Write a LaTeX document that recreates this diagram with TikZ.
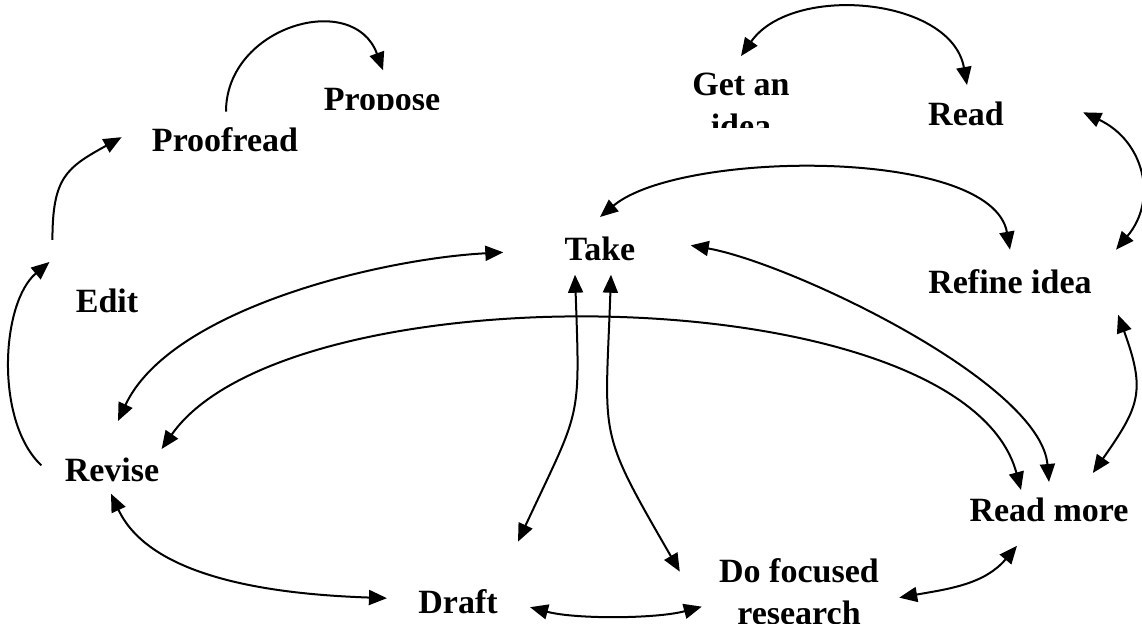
\documentclass[tikz,border=0pt]{standalone}
\usepackage{fontspec}
\setmainfont{Liberation Serif}
\usetikzlibrary{arrows.meta}

\begin{document}
\begin{tikzpicture}[x=0.5pt,y=0.5pt,
  lbl/.style={font=\fontsize{17}{21}\selectfont\bfseries, inner sep=0pt, anchor=base, align=center},
  link/.style={line width=1pt, -{Triangle[length=9pt,width=7.5pt]}},
  both/.style={line width=1pt, {Triangle[length=9pt,width=7.5pt]}-{Triangle[length=9pt,width=7.5pt]}}]
  \clip (0,0) rectangle (1142,624);
  \begin{scope}
    \clip (300,514) rectangle (470,560);
    \node[lbl] (propose) at (382,513) {Propose};
  \end{scope}
  \begin{scope}
    \clip (680,496) rectangle (800,560);
    \node[lbl] (getidea) at (741,486) {Get an\\idea};
  \end{scope}
  \node[lbl] (proofread) at (225,472) {Proofread};
  \node[lbl] (edit) at (107,311) {Edit};
  \node[lbl] (read) at (966,498) {Read};
  \node[lbl] (take) at (600,363) {Take};
  \node[lbl] (refine) at (1010,330) {Refine idea};
  \node[lbl] (revise) at (112,142) {Revise};
  \node[lbl] (readmore) at (1049,102) {Read more};
  \node[lbl] (draft) at (458,10) {Draft};
  \node[lbl] (focused) at (799,-1) {Do focused\\research};

  \draw[link] ([shift={(1,16)}]proofread.north) to[out=90,in=110,looseness=1.35] ([shift={(1,18)}]propose.north);
  \draw[link] ([shift={(-23,49)}]edit.north west) to[out=90,in=209,looseness=1.3] ([shift={(-30,3)}]proofread.west);
  \draw[link] ([shift={(-23,5)}]revise.west) to[out=137,in=220,looseness=0.8] ([shift={(-26,27)}]edit.north west);
  \draw[both] ([shift={(0,17)}]getidea.north) to[out=55,in=100] ([shift={(1,17)}]read.north);
  \draw[both] ([shift={(79,2)}]read.east) to[out=-25,in=50,looseness=1.2] ([shift={(24,20)}]refine.north east);
  \draw[both] ([shift={(0,20)}]take.north) to[out=40,in=100,looseness=0.65] ([shift={(0,20)}]refine.north);
  \draw[both] ([shift={(55,4)}]take.east) to[out=-10,in=95,looseness=0.6] ([shift={(0,16)}]readmore.north);
  \draw[both] ([shift={(2,9)}]revise.north east) to[out=55,in=105,looseness=0.66] ([shift={(-28,8)}]readmore.north);
  \draw[both] ([shift={(6,37)}]revise.north) to[out=65,in=183,looseness=0.75] ([shift={(-61,-3)}]take.west);
  \draw[both] ([shift={(-1,-11)}]revise.south) to[out=-65,in=178,looseness=0.85] ([shift={(-31,4)}]draft.west);
  \draw[both] ([shift={(32,-5)}]draft.east) to[out=-15,in=195,looseness=0.7] ([shift={(-17,-48)}]focused.north west);
  \draw[both] ([shift={(20,-39)}]focused.north east) to[out=10,in=230] ([shift={(-32,-23)}]readmore.south);
  \draw[both] ([shift={(26,-20)}]refine.south east) to[out=-70,in=55,looseness=1.3] ([shift={(-36,25)}]readmore.north east);
  \draw[both] ([shift={(-25,-13)}]take.south) to[out=-88,in=65,looseness=1.4] ([shift={(60,48)}]draft.north);
  \draw[both] ([shift={(11,-13)}]take.south) to[out=-92,in=120,looseness=1.4] ([shift={(-39,-13)}]focused.north west);
\end{tikzpicture}
\end{document}
